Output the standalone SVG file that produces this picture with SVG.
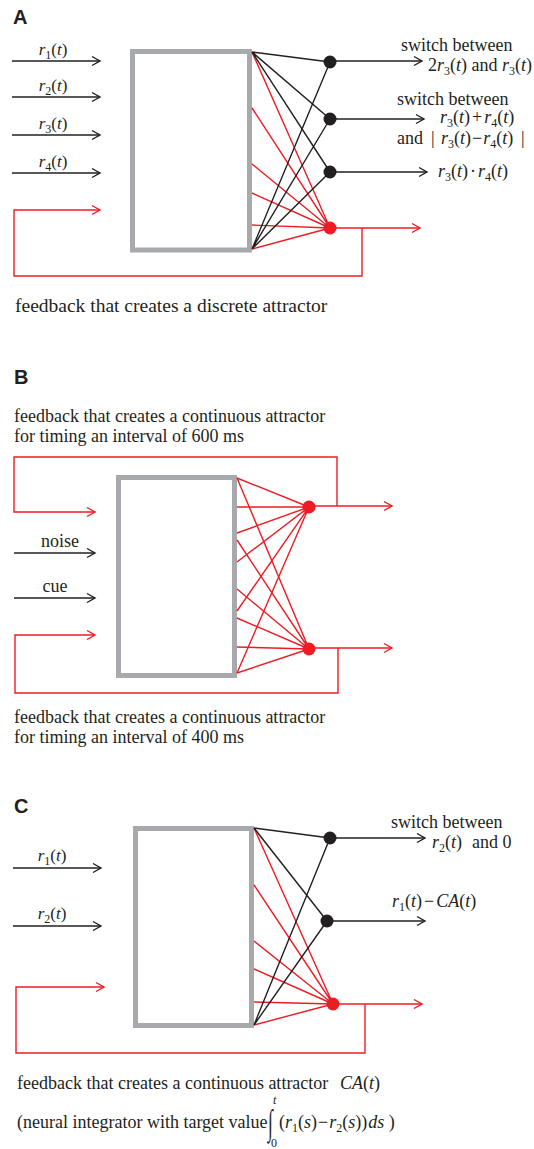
<svg xmlns="http://www.w3.org/2000/svg" width="534" height="1149" viewBox="0 0 534 1149">
<defs>
<style>
.box{fill:#fff;stroke:#a7a9ac;stroke-width:5}
.k{stroke:#231f20;stroke-width:1.4;fill:none}
.r{stroke:#ed1c24;stroke-width:1.4;fill:none}
.ka{marker-end:url(#ak)}
.ra{marker-end:url(#ar)}
.dk{fill:#231f20}
.dr{fill:#ed1c24}
.t{font-family:"Liberation Serif","Times New Roman",serif;font-size:18px;fill:#231f20}
.m{font-family:"Liberation Serif","Times New Roman",serif;font-size:17px;fill:#231f20}
.i{font-style:italic}
.sub{font-size:12px;font-style:normal}
.lab{font-family:"Liberation Sans",Arial,sans-serif;font-weight:bold;font-size:20px;fill:#231f20}
</style>
<marker id="ak" viewBox="-9 -5 10 10" refX="0" refY="0" markerWidth="10" markerHeight="10" markerUnits="userSpaceOnUse" orient="auto" overflow="visible"><path d="M-8,-4.5 L0,0 L-8,4.5" fill="none" stroke="#231f20" stroke-width="1.4"/></marker>
<marker id="ar" viewBox="-9 -5 10 10" refX="0" refY="0" markerWidth="10" markerHeight="10" markerUnits="userSpaceOnUse" orient="auto" overflow="visible"><path d="M-8,-4.5 L0,0 L-8,4.5" fill="none" stroke="#ed1c24" stroke-width="1.4"/></marker>
</defs>
<rect width="534" height="1149" fill="#fff"/>

<!-- Panel labels -->
<text class="lab" x="13" y="24">A</text>
<text class="lab" x="14" y="384">B</text>
<text class="lab" x="14" y="813">C</text>

<!-- Boxes -->
<g id="boxA"><rect class="box" x="132.5" y="51.5" width="117" height="198.5"/></g>
<g id="boxB"><rect class="box" x="118.5" y="477.5" width="116" height="198"/></g>
<g id="boxC"><rect class="box" x="135.5" y="828.5" width="116" height="197"/></g>

<!-- Connectors -->
<g id="connectors">
  <!-- Panel A -->
  <path class="r" d="M252,52 L330,228 M252,108 L330,228 M252,164 L330,228 M252,193 L330,228 M252,225 L330,228 M252,249 L330,228"/>
  <path class="k" d="M252,52 L330,62 M252,52 L330,119 M252,52 L330,172 M252,249 L330,62 M252,249 L330,119 M252,249 L330,172"/>
  <path class="k ka" d="M12,61 H100"/>
  <path class="k ka" d="M12,97 H100"/>
  <path class="k ka" d="M12,135 H100"/>
  <path class="k ka" d="M12,173 H100"/>
  <path class="k ka" d="M330,61 H422"/>
  <path class="k ka" d="M330,119 H424"/>
  <path class="k ka" d="M330,172 H427"/>
  <path class="r ra" d="M330,228 H420"/>
  <path class="r ra" d="M362,228 V276 H14 V210 H100"/>

  <!-- Panel B -->
  <path class="r" d="M237,478 L309,507 M237,507 L309,507 M237,533 L309,507 M237,562 L309,507 M237,611 L309,507 M237,673 L309,507"/>
  <path class="r" d="M237,478 L309,649 M237,540 L309,649 M237,589 L309,649 M237,618 L309,649 M237,647 L309,649 M237,673 L309,649"/>
  <path class="k ka" d="M14,553 H95"/>
  <path class="k ka" d="M14,598 H95"/>
  <path class="r ra" d="M309,506 H392"/>
  <path class="r ra" d="M309,648 H392"/>
  <path class="r ra" d="M337,506 V457 H14 V512 H95"/>
  <path class="r ra" d="M338,648 V693 H15 V635 H95"/>

  <!-- Panel C -->
  <path class="r" d="M254,828 L333,1004 M254,885 L333,1004 M254,941 L333,1004 M254,969 L333,1004 M254,1002 L333,1004 M254,1025 L333,1004"/>
  <path class="k" d="M254,828 L330,838 M254,828 L327,921 M254,1025 L330,838 M254,1025 L327,921"/>
  <path class="k ka" d="M13,868 H101"/>
  <path class="k ka" d="M13,926 H101"/>
  <path class="k ka" d="M330,838 H425"/>
  <path class="k ka" d="M327,921 H425"/>
  <path class="r ra" d="M333,1004 H422"/>
  <path class="r ra" d="M365,1004 V1053 H16 V987 H104"/>
</g>

<!-- Nodes -->
<g id="A-n1"><circle class="dk" cx="330" cy="62" r="6.5"/></g>
<g id="A-n2"><circle class="dk" cx="330" cy="119" r="6.5"/></g>
<g id="A-n3"><circle class="dk" cx="330" cy="172" r="6.5"/></g>
<g id="A-n4"><circle class="dr" cx="330" cy="228" r="6.5"/></g>
<g id="B-n1"><circle class="dr" cx="309" cy="507" r="6.5"/></g>
<g id="B-n2"><circle class="dr" cx="309" cy="649" r="6.5"/></g>
<g id="C-n1"><circle class="dk" cx="330" cy="838" r="6.5"/></g>
<g id="C-n2"><circle class="dk" cx="327" cy="921" r="6.5"/></g>
<g id="C-n3"><circle class="dr" cx="333" cy="1004" r="6.5"/></g>

<!-- Panel A texts -->
<g id="A-inputs">
<text class="m" x="53" y="55" text-anchor="middle"><tspan class="i">r</tspan><tspan class="sub" dy="4">1</tspan><tspan dy="-4">(</tspan><tspan class="i">t</tspan>)</text>
<text class="m" x="53" y="91" text-anchor="middle"><tspan class="i">r</tspan><tspan class="sub" dy="4">2</tspan><tspan dy="-4">(</tspan><tspan class="i">t</tspan>)</text>
<text class="m" x="53" y="129" text-anchor="middle"><tspan class="i">r</tspan><tspan class="sub" dy="4">3</tspan><tspan dy="-4">(</tspan><tspan class="i">t</tspan>)</text>
<text class="m" x="53" y="167" text-anchor="middle"><tspan class="i">r</tspan><tspan class="sub" dy="4">4</tspan><tspan dy="-4">(</tspan><tspan class="i">t</tspan>)</text>
</g>
<g id="A-outputs">
<text class="t" x="401" y="51">switch between</text>
<text class="t" x="428" y="71">2<tspan class="i">r</tspan><tspan class="sub" dy="4">3</tspan><tspan dy="-4">(</tspan><tspan class="i">t</tspan>) and <tspan class="i">r</tspan><tspan class="sub" dy="4">3</tspan><tspan dy="-4">(</tspan><tspan class="i">t</tspan>)</text>
<text class="t" x="397" y="105">switch between</text>
<text class="t" x="440" y="123"><tspan class="i">r</tspan><tspan class="sub" dy="4">3</tspan><tspan dy="-4">(</tspan><tspan class="i">t</tspan>)<tspan dx="2">+</tspan><tspan class="i" dx="2">r</tspan><tspan class="sub" dy="4">4</tspan><tspan dy="-4">(</tspan><tspan class="i">t</tspan>)</text>
<text class="t" x="397" y="144">and<tspan x="431">|</tspan><tspan class="i" x="441">r</tspan><tspan class="sub" dy="4">3</tspan><tspan dy="-4">(</tspan><tspan class="i">t</tspan>)<tspan dx="1">−</tspan><tspan class="i" dx="1">r</tspan><tspan class="sub" dy="4">4</tspan><tspan dy="-4">(</tspan><tspan class="i">t</tspan>)<tspan x="521">|</tspan></text>
<text class="t" x="438" y="177"><tspan class="i">r</tspan><tspan class="sub" dy="4">3</tspan><tspan dy="-4">(</tspan><tspan class="i">t</tspan>)<tspan dx="2">·</tspan><tspan class="i" dx="2">r</tspan><tspan class="sub" dy="4">4</tspan><tspan dy="-4">(</tspan><tspan class="i">t</tspan>)</text>
</g>
<text class="t" x="15" y="312" style="font-size:19.5px">feedback that creates a discrete attractor</text>

<!-- Panel B texts -->
<text class="t" x="14" y="422">feedback that creates a continuous attractor</text>
<text class="t" x="14" y="442">for timing an interval of 600 ms</text>
<text class="t" x="60" y="547" text-anchor="middle">noise</text>
<text class="t" x="55" y="592" text-anchor="middle">cue</text>
<text class="t" x="14" y="723">feedback that creates a continuous attractor</text>
<text class="t" x="14" y="743">for timing an interval of 400 ms</text>

<!-- Panel C texts -->
<g id="C-inputs">
<text class="m" x="52" y="861" text-anchor="middle"><tspan class="i">r</tspan><tspan class="sub" dy="4">1</tspan><tspan dy="-4">(</tspan><tspan class="i">t</tspan>)</text>
<text class="m" x="52" y="919" text-anchor="middle"><tspan class="i">r</tspan><tspan class="sub" dy="4">2</tspan><tspan dy="-4">(</tspan><tspan class="i">t</tspan>)</text>
</g>
<g id="C-outputs">
<text class="t" x="391" y="828">switch between</text>
<text class="t" x="432" y="848"><tspan class="i">r</tspan><tspan class="sub" dy="4">2</tspan><tspan dy="-4">(</tspan><tspan class="i">t</tspan>)<tspan x="472">and 0</tspan></text>
<text class="t" x="392" y="907"><tspan class="i">r</tspan><tspan class="sub" dy="4">1</tspan><tspan dy="-4">(</tspan><tspan class="i">t</tspan>)<tspan dx="2">−</tspan><tspan class="i" dx="2">CA</tspan>(<tspan class="i">t</tspan>)</text>
</g>
<text class="t" x="17" y="1089">feedback that creates a continuous attractor<tspan class="i" x="340">CA</tspan>(<tspan class="i">t</tspan>)</text>
<text class="t" x="17" y="1128">(neural integrator with target value</text>
<text class="t" transform="translate(268,1134) scale(0.8,1.6)" x="0" y="0" style="font-size:22px">∫</text>
<text class="t i" x="273" y="1104" style="font-size:12px">t</text>
<text class="t" x="271" y="1147" style="font-size:12px">0</text>
<text class="t" x="279" y="1128">(<tspan class="i">r</tspan><tspan class="sub" dy="4">1</tspan><tspan dy="-4">(</tspan><tspan class="i">s</tspan>)<tspan dx="1">−</tspan><tspan class="i" dx="1">r</tspan><tspan class="sub" dy="4">2</tspan><tspan dy="-4">(</tspan><tspan class="i">s</tspan>))<tspan class="i" dx="1">ds</tspan> )</text>
</svg>
